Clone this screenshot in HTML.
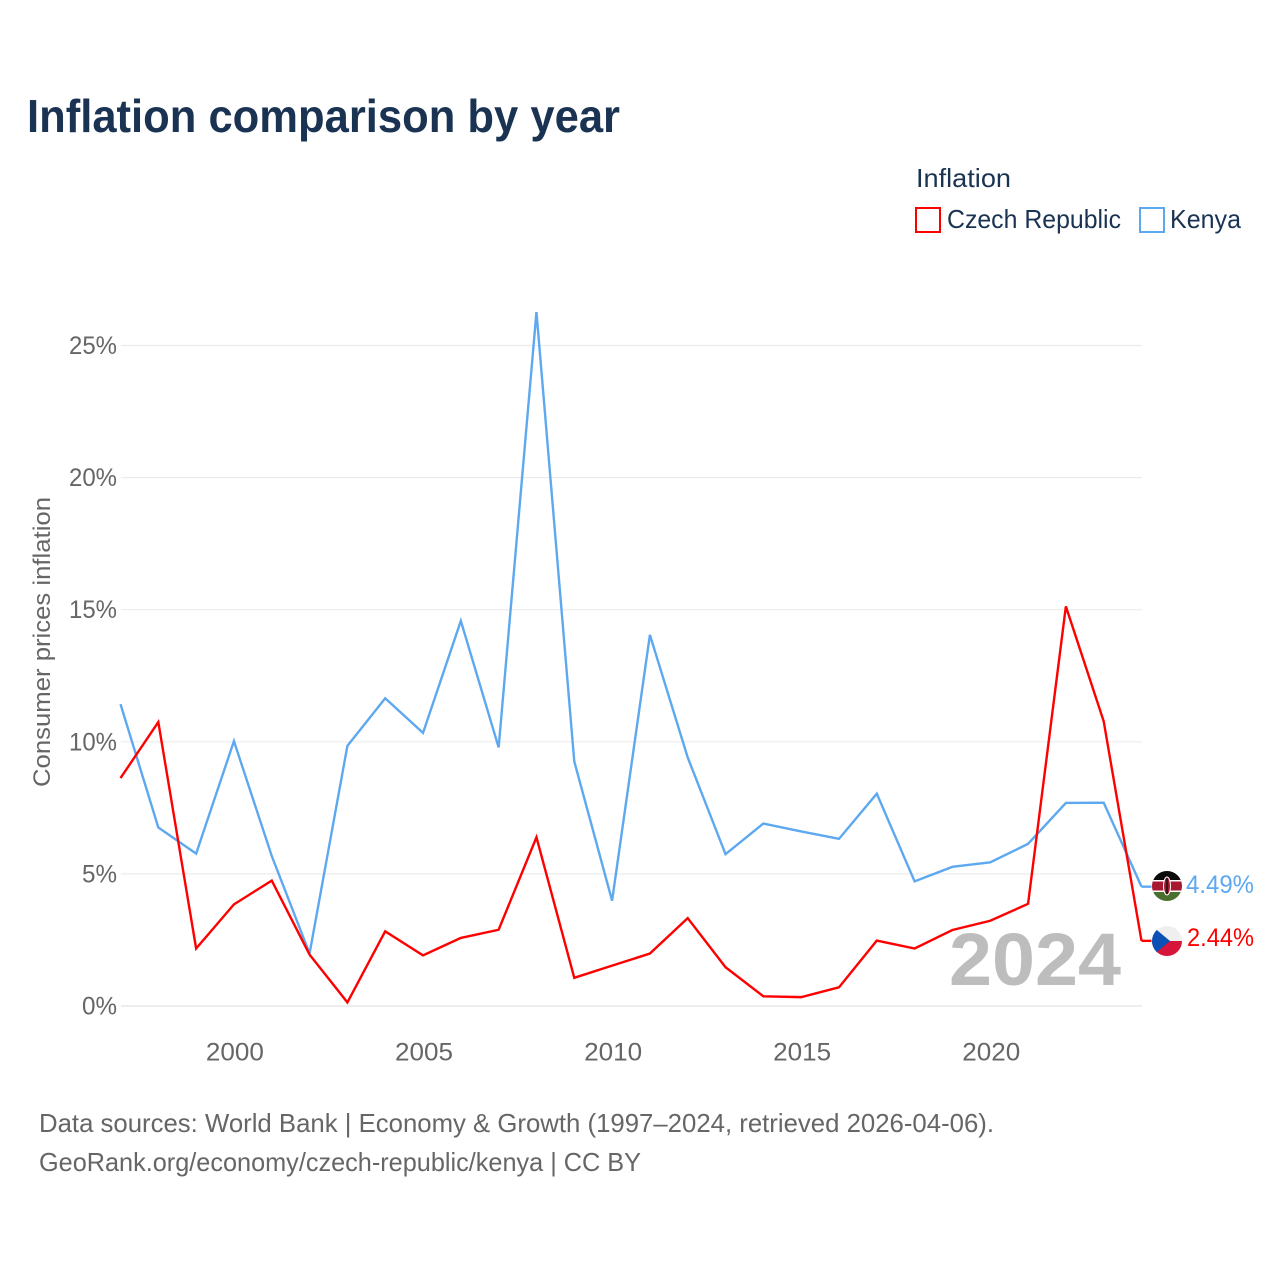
<!DOCTYPE html>
<html lang="en">
<head>
<meta charset="utf-8">
<title>Inflation comparison by year</title>
<style>
  html, body { margin: 0; padding: 0; background: #fff; }
  svg { display: block; font-family: "Liberation Sans", sans-serif; }
</style>
</head>
<body>
<svg id="chart" xmlns="http://www.w3.org/2000/svg" width="1280" height="1280" viewBox="0 0 1280 1280">
  <defs>
    <clipPath id="ke-clip"><circle cx="1167" cy="886" r="15"/></clipPath>
    <clipPath id="cz-clip"><circle cx="1167" cy="941" r="15"/></clipPath>
  </defs>
  <rect width="1280" height="1280" fill="#fff"/>
  <text x="27" y="132" font-size="46" font-weight="700" fill="#1a3353" textLength="593" lengthAdjust="spacingAndGlyphs">Inflation comparison by year</text>

  <text x="916" y="187" font-size="26" fill="#1a3353" textLength="95" lengthAdjust="spacingAndGlyphs">Inflation</text>
  <rect x="916" y="208" width="24" height="24" fill="none" stroke="#ff0000" stroke-width="2"/>
  <text x="947" y="228" font-size="26" fill="#1a3353" textLength="174" lengthAdjust="spacingAndGlyphs">Czech Republic</text>
  <rect x="1140" y="208" width="24" height="24" fill="none" stroke="#5ea8f0" stroke-width="2"/>
  <text x="1170" y="228" font-size="26" fill="#1a3353" textLength="71" lengthAdjust="spacingAndGlyphs">Kenya</text>

  <g id="grid"></g>
  <g id="y-ticks"></g>
  <g id="x-ticks"></g>
  <text transform="translate(50 642) rotate(-90)" text-anchor="middle" font-size="24" fill="#666" textLength="290" lengthAdjust="spacingAndGlyphs">Consumer prices inflation</text>

  <text x="1121" y="985" text-anchor="end" font-size="74" font-weight="700" fill="#bdbdbd" textLength="172" lengthAdjust="spacingAndGlyphs">2024</text>

  <g id="series" transform="translate(-0.5 -0.7)"></g>

  <g clip-path="url(#ke-clip)">
    <rect x="1152" y="871" width="30" height="10" fill="#0a0a0a"/>
    <rect x="1152" y="881" width="30" height="10" fill="#a6192e"/>
    <rect x="1152" y="891" width="30" height="10" fill="#4a7030"/>
    <rect x="1152" y="880" width="30" height="1.5" fill="#fff"/>
    <rect x="1152" y="890.5" width="30" height="1.5" fill="#fff"/>
    <ellipse cx="1167" cy="886" rx="3.5" ry="9" fill="#a6192e" stroke="#fff" stroke-width="1"/>
    <rect x="1166.3" y="878" width="1.4" height="16" fill="#111"/>
  </g>
  <g clip-path="url(#cz-clip)">
    <rect x="1152" y="926" width="30" height="15" fill="#efefef"/>
    <rect x="1152" y="941" width="30" height="15" fill="#d7143a"/>
    <polygon points="1152,926 1170,941 1152,956" fill="#0a50b5"/>
  </g>

  <text id="label-kenya" x="1186" y="893" font-size="25" fill="#5ea8f0" textLength="68" lengthAdjust="spacingAndGlyphs"></text>
  <text id="label-czech" x="1187" y="946" font-size="25" fill="#ff0000" textLength="67" lengthAdjust="spacingAndGlyphs"></text>

  <text x="39" y="1132" font-size="26" fill="#666" textLength="955" lengthAdjust="spacingAndGlyphs">Data sources: World Bank | Economy &amp; Growth (1997–2024, retrieved 2026-04-06).</text>
  <text x="39" y="1171" font-size="26" fill="#666" textLength="602" lengthAdjust="spacingAndGlyphs">GeoRank.org/economy/czech-republic/kenya | CC BY</text>
</svg>
<script>
const years = [1997,1998,1999,2000,2001,2002,2003,2004,2005,2006,2007,2008,2009,2010,2011,2012,2013,2014,2015,2016,2017,2018,2019,2020,2021,2022,2023,2024];
const kenyaValues = [11.4,6.73,5.74,10.0,5.65,1.96,9.82,11.62,10.31,14.55,9.76,26.24,9.23,3.96,14.02,9.38,5.72,6.88,6.58,6.30,8.01,4.69,5.24,5.41,6.11,7.66,7.67,4.49];
const czechValues = [8.6,10.72,2.15,3.82,4.72,1.92,0.11,2.8,1.89,2.55,2.86,6.36,1.04,1.5,1.96,3.3,1.44,0.34,0.31,0.68,2.45,2.15,2.85,3.2,3.84,15.1,10.75,2.44];
const yTickValues = [0,5,10,15,20,25];
const xTickValues = [2000,2005,2010,2015,2020];

const NS = 'http://www.w3.org/2000/svg';
function xScale(year) { return 121 + (year - 1997) * (1142 - 121) / 27; }
function yScale(v) { return 1006 - v * (1006 - 345.5) / 25; }
function make(tag, attrs, parent) {
  const el = document.createElementNS(NS, tag);
  for (const k in attrs) el.setAttribute(k, attrs[k]);
  parent.appendChild(el);
  return el;
}

const grid = document.getElementById('grid');
const yTicks = document.getElementById('y-ticks');
yTickValues.forEach(function (v) {
  const line = make('line', { x1: 121, x2: 1142, y1: yScale(v), y2: yScale(v), stroke: v === 0 ? '#e2e2e2' : '#ececec', 'stroke-width': 1.2 }, grid);
  
  
  const t = make('text', { x: 117, y: yScale(v) + 8.5, 'text-anchor': 'end', 'font-size': 25, fill: '#666', textLength: v < 10 ? 35 : 48, lengthAdjust: 'spacingAndGlyphs' }, yTicks);
  t.textContent = v + '%';
  
  
});

const xTicks = document.getElementById('x-ticks');
xTickValues.forEach(function (yr) {
  const t = make('text', { x: xScale(yr) + 0.5, y: 1060.5, 'text-anchor': 'middle', 'font-size': 25, fill: '#666', textLength: 58, lengthAdjust: 'spacingAndGlyphs' }, xTicks);
  t.textContent = String(yr);
  
  
});

function linePath(values) {
  return values.map(function (v, i) { return (i ? 'L' : 'M') + xScale(years[i]).toFixed(2) + ' ' + yScale(v).toFixed(2); }).join(' ');
}
const series = document.getElementById('series');
const kenyaLine = make('path', { d: linePath(kenyaValues), fill: 'none', stroke: '#5ea8f0', 'stroke-width': 2.4, 'stroke-linejoin': 'miter' }, series);


const czechLine = make('path', { d: linePath(czechValues), fill: 'none', stroke: '#ff0000', 'stroke-width': 2.4, 'stroke-linejoin': 'miter' }, series);



const kenyaEndX = xScale(years[years.length - 1]);
const kenyaStub = make('line', { x1: kenyaEndX, x2: kenyaEndX + 10, y1: yScale(kenyaValues[kenyaValues.length - 1]), y2: yScale(kenyaValues[kenyaValues.length - 1]), stroke: '#5ea8f0', 'stroke-width': 2.4 }, series);


const czechStub = make('line', { x1: kenyaEndX, x2: kenyaEndX + 10, y1: yScale(czechValues[czechValues.length - 1]), y2: yScale(czechValues[czechValues.length - 1]), stroke: '#ff0000', 'stroke-width': 2.4 }, series);



document.getElementById('label-kenya').textContent = kenyaValues[kenyaValues.length - 1].toFixed(2) + '%';
document.getElementById('label-czech').textContent = czechValues[czechValues.length - 1].toFixed(2) + '%';
</script>
</body>
</html>
